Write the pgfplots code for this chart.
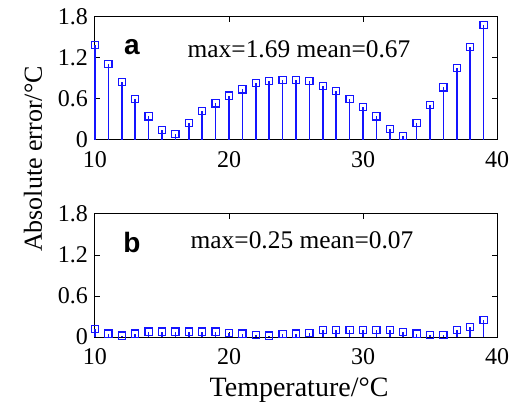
\documentclass[border=0pt]{standalone}
\usepackage{fontspec}
\setmainfont{Liberation Serif}
\newfontfamily\arial{Liberation Sans}
\usepackage{pgfplots}
\pgfplotsset{compat=1.18}

\definecolor{stemblue}{RGB}{20,20,255}

\pgfplotsset{
  errpanel/.style={
    scale only axis,
    width=201pt, height=61.5pt,
    xmin=10, xmax=40, ymin=0, ymax=1.8,
    xtick={10,20,30,40},
    ytick={0,0.6,1.2,1.8},
    yticklabels={0,0.6,1.2,1.8},
    tick align=inside,
    major tick length=2.5pt,
    tick style={black, line width=0.5pt},
    axis line style={line width=0.5pt},
    tick label style={font=\fontsize{12}{13}\selectfont},
    xticklabel style={yshift=-2pt},
    /pgf/number format/assume math mode=true,
    clip=false,
  },
  stem/.style={stemblue, line width=0.75pt, ycomb,
    mark=square, mark size=1.8pt, mark options={solid, stemblue, line width=0.6pt}},
}

\begin{document}
\begin{tikzpicture}
\path[use as bounding box] (-47.5pt,-132.5pt) rectangle (211.5pt,70pt);

% panel a
\begin{axis}[errpanel, at={(0pt,0pt)}, anchor=south west]
\addplot[stem] coordinates {
  (10,1.39) (11,1.11) (12,0.85) (13,0.60) (14,0.345) (15,0.15) (16,0.09)
  (17,0.25) (18,0.42) (19,0.535) (20,0.65) (21,0.74) (22,0.83) (23,0.86)
  (24,0.875) (25,0.875) (26,0.86) (27,0.79) (28,0.715) (29,0.60) (30,0.48)
  (31,0.345) (32,0.16) (33,0.06) (34,0.25) (35,0.51) (36,0.77) (37,1.05)
  (38,1.36) (39,1.68)
};
\end{axis}

% panel b
\begin{axis}[errpanel, at={(0pt,-98.5pt)}, anchor=south west]
\addplot[stem] coordinates {
  (10,0.12) (11,0.05) (12,0.02) (13,0.05) (14,0.08) (15,0.08) (16,0.08)
  (17,0.08) (18,0.08) (19,0.08) (20,0.06) (21,0.05) (22,0.03) (23,0.02)
  (24,0.04) (25,0.05) (26,0.06) (27,0.10) (28,0.10) (29,0.10) (30,0.10)
  (31,0.10) (32,0.10) (33,0.07) (34,0.05) (35,0.03) (36,0.03) (37,0.10)
  (38,0.15) (39,0.25)
};
\end{axis}

% panel letters and statistics
\node[font=\arial\bfseries\fontsize{14}{15}\selectfont] at (18.5pt,46.5pt) {a};
\node[font=\fontsize{12.7}{14}\selectfont] at (102pt,45.5pt) {max=1.69 mean=0.67};
\node[font=\arial\bfseries\fontsize{14}{15}\selectfont] at (18.5pt,-51pt) {b};
\node[font=\fontsize{12.7}{14}\selectfont] at (103.5pt,-50pt) {max=0.25 mean=0.07};

% shared axis labels
\node[rotate=90, font=\fontsize{13}{14}\selectfont] at (-31pt,-9.5pt) {Absolute error/°C};
\node[font=\fontsize{14}{15}\selectfont] at (102pt,-125pt) {Temperature/°C};
\end{tikzpicture}
\end{document}
